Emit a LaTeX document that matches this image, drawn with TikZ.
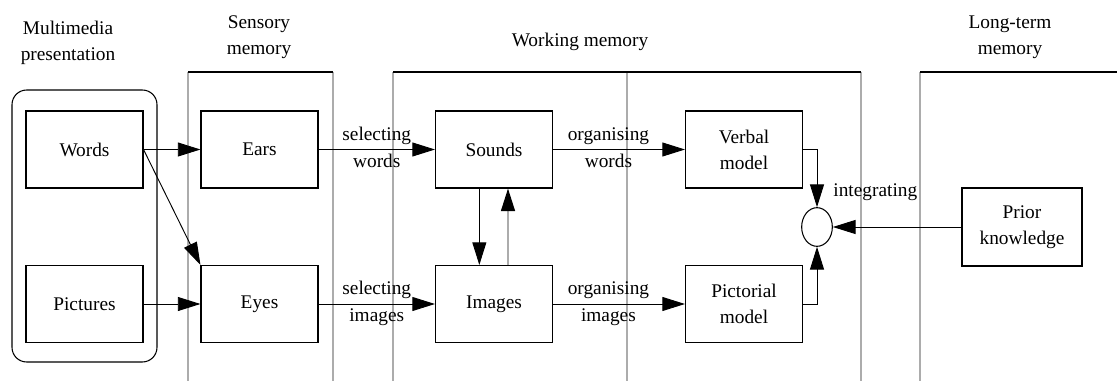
\documentclass[tikz,border=0pt]{standalone}
\usepackage{fontspec}
\setmainfont{Liberation Serif}
\usetikzlibrary{arrows.meta, shapes.geometric, positioning}

\begin{document}
\begin{tikzpicture}[x=0.75pt, y=-0.75pt,
    every node/.style={font=\fontsize{14.5}{19.5}\selectfont},
    stagebox/.style={draw, line width=0.8pt, minimum width=87.75pt, minimum height=57.75pt, align=center, inner sep=2pt},
    flow/.style={-{Triangle[length=17pt,width=10.5pt]}, line width=0.7pt},
    panel/.style={draw=gray!65, line width=1.4pt},
    heading/.style={align=center}]
    \useasboundingbox (0,0) rectangle (1117,381);

    % memory stores
    \foreach \x in {188,333,393,627,861,920}
        \draw[panel] (\x,72) -- (\x,381);
    \draw[line width=0.8pt] (188,72) -- (333,72);
    \draw[line width=0.8pt] (393,72) -- (861,72);
    \draw[line width=0.8pt] (920,72) -- (1117,72);
    \draw[line width=0.8pt, rounded corners=11pt] (12,90) rectangle (157,362);

    \node[heading] (mmhead) at (68,43) {Multimedia\\presentation};
    \node[heading] (senshead) at (259,37) {Sensory\\memory};
    \node[heading] (workhead) at (580,42) {Working memory};
    \node[heading] (longhead) at (1010,37) {Long-term\\memory};

    \node[stagebox] (words) at (84.5,149.5) {Words};
    \node[stagebox] (pictures) at (84.5,304) {Pictures};
    \node[stagebox] (ears) at (259.5,149.5) {Ears};
    \node[stagebox] (eyes) at (259.5,304) {Eyes};
    \node[stagebox] (sounds) at (494,149.5) {Sounds};
    \node[stagebox] (images) at (494,304) {Images};
    \node[stagebox] (verbal) at (744,149.5) {Verbal\\model};
    \node[stagebox] (pictorial) at (744,304) {Pictorial\\model};
    \node[stagebox, minimum width=90pt, minimum height=58.5pt] (prior) at (1022,227) {Prior\\knowledge};
    \node[ellipse, draw, line width=0.8pt, minimum width=23pt, minimum height=29pt, inner sep=0pt] (join) at (817,227) {};

    % arrows
    \draw[flow] (words) -- (ears);
    \draw[flow] (words.east) -- (eyes.north west);
    \draw[flow] (pictures) -- (eyes);
    \draw[flow] (ears) -- node[above] {selecting} node[below] {words} (sounds);
    \draw[flow] (eyes) -- node[above] {selecting} node[below] {images} (images);
    \draw[flow] ([xshift=-11pt]sounds.south) -- ([xshift=-11pt]images.north);
    \draw[flow, draw=gray!65, line width=1.2pt, -{Triangle[length=17pt,width=10.5pt,color=black]}] ([xshift=10.5pt]images.north) -- ([xshift=10.5pt]sounds.south);
    \draw[flow] (sounds) -- node[above, pos=0.42] {organising} node[below, pos=0.42] {words} (verbal);
    \draw[flow] (images) -- node[above, pos=0.42] {organising} node[below, pos=0.42] {images} (pictorial);
    \draw[flow] (verbal.east) -| (join.north);
    \draw[flow] (pictorial.east) -| (join.south);
    \draw[flow] (prior) -- node[pos=0.67, yshift=26pt] {integrating} (join);
\end{tikzpicture}
\end{document}
